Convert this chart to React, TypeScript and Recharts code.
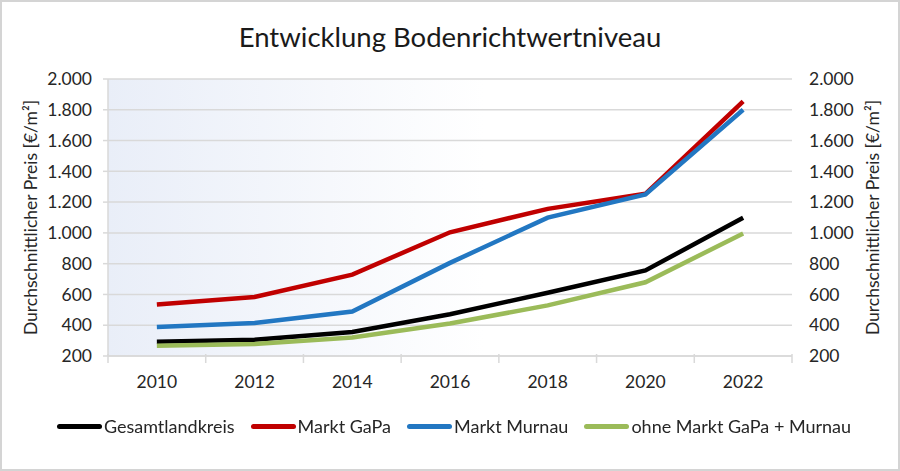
import React from 'react';
import { LineChart, Line, XAxis, YAxis, CartesianGrid } from 'recharts';

const years = ['2010', '2012', '2014', '2016', '2018', '2020', '2022'];
const gesamtlandkreis = [293, 305, 356, 471, 611, 756, 1098];
const marktGaPa = [535, 584, 729, 1004, 1156, 1254, 1855];
const marktMurnau = [389, 415, 489, 805, 1099, 1250, 1800];
const ohneGaPaMurnau = [266, 278, 320, 411, 529, 679, 996];
const yTicks = [200, 400, 600, 800, 1000, 1200, 1400, 1600, 1800, 2000];

// both y axes share the same scale; the last series is tied to the right one so it renders
const series = [
  { key: 'gesamt', name: 'Gesamtlandkreis', color: '#000000', values: gesamtlandkreis, axis: 'left' },
  { key: 'gapa', name: 'Markt GaPa', color: '#c00000', values: marktGaPa, axis: 'left' },
  { key: 'murnau', name: 'Markt Murnau', color: '#2277c2', values: marktMurnau, axis: 'left' },
  { key: 'ohne', name: 'ohne Markt GaPa + Murnau', color: '#9bbb59', values: ohneGaPaMurnau, axis: 'right' },
];

const data = years.map((year, i) => {
  const row: Record<string, string | number> = { year };
  series.forEach((s) => {
    row[s.key] = s.values[i];
  });
  return row;
});

const FONT = 'Lato, "Open Sans", sans-serif';
const TEXT = '#262626';
const GRID = '#d9d9d9';

// German thousands separator: 2000 -> "2.000"
const fmt = (v: number) =>
  v >= 1000 ? `${Math.floor(v / 1000)}.${String(v % 1000).padStart(3, '0')}` : String(v);

// x tick: label at category centre, tick marks on the band edges
const XTick = (props: any) => {
  const { x, y, payload, index, width } = props;
  const band = (width || 684) / years.length;
  return (
    <g>
      <line x1={x - band / 2} x2={x - band / 2} y1={y - 10} y2={y - 1} stroke={GRID} strokeWidth={1.5} />
      {index === years.length - 1 && (
        <line x1={x + band / 2} x2={x + band / 2} y1={y - 10} y2={y - 1} stroke={GRID} strokeWidth={1.5} />
      )}
      <text x={x} y={y + 24} textAnchor="middle" fill={TEXT} fontSize={17.5} fontFamily={FONT}>
        {payload.value}
      </text>
    </g>
  );
};

const AxisTitle = ({ viewBox, dx }: any) => {
  const cx = viewBox.x + dx;
  const cy = viewBox.y + viewBox.height / 2;
  return (
    <text
      x={cx}
      y={cy}
      transform={`rotate(-90 ${cx} ${cy})`}
      textAnchor="middle"
      dominantBaseline="central"
      fill={TEXT}
      fontSize={17.5}
      fontFamily={FONT}
    >
      Durchschnittlicher Preis [€/m²]
    </text>
  );
};

const ChartLegend = () => (
  <div
    style={{
      position: 'absolute',
      left: 4,
      top: 415,
      width: 900,
      display: 'flex',
      justifyContent: 'center',
      gap: 16,
      fontFamily: FONT,
      fontSize: 18,
      color: TEXT,
    }}
  >
    {series.map((s) => (
      <div key={s.key} style={{ display: 'flex', alignItems: 'center' }}>
        <span style={{ width: 45, height: 5, borderRadius: 3, background: s.color, display: 'inline-block' }} />
        <span style={{ marginLeft: 2 }}>{s.name}</span>
      </div>
    ))}
  </div>
);

export default function App() {
  return (
    <div style={{ position: 'fixed', left: 0, top: 0, width: 900, height: 471, background: '#fff' }}>
      <div
        style={{
          position: 'absolute',
          left: 0,
          top: 20,
          width: 900,
          textAlign: 'center',
          fontFamily: FONT,
          fontSize: 27.5,
          color: '#1a1a1a',
        }}
      >
        Entwicklung Bodenrichtwertniveau
      </div>
      <LineChart
        width={900}
        height={471}
        data={data}
        margin={{ top: 79, right: 0, left: 0, bottom: 85 }}
        style={{ position: 'absolute', left: 0, top: 0 }}
      >
        <defs>
          <linearGradient id="plotBg" x1="0" y1="0" x2="1" y2="0">
            <stop offset="0%" stopColor="#e9eef8" />
            <stop offset="55%" stopColor="#ffffff" />
            <stop offset="100%" stopColor="#ffffff" />
          </linearGradient>
        </defs>
        <CartesianGrid vertical={false} stroke={GRID} strokeWidth={1.5} fill="url(#plotBg)" yAxisId="left" />
        <XAxis
          dataKey="year"
          scale="band"
          height={30}
          axisLine={{ stroke: GRID, strokeWidth: 1.5 }}
          tickLine={false}
          tick={<XTick />}
          interval={0}
        />
        <YAxis
          yAxisId="left"
          width={108}
          domain={[200, 2000]}
          ticks={yTicks}
          interval={0}
          tickFormatter={fmt}
          axisLine={{ stroke: GRID, strokeWidth: 1.5 }}
          tickLine={{ stroke: GRID, strokeWidth: 1.5 }}
          tickSize={5}
          tickMargin={11}
          tick={{ fill: TEXT, fontSize: 17.5, fontFamily: FONT }}
          label={<AxisTitle dx={30} />}
        />
        <YAxis
          yAxisId="right"
          orientation="right"
          width={108}
          domain={[200, 2000]}
          ticks={yTicks}
          interval={0}
          tickFormatter={fmt}
          axisLine={false}
          tickLine={false}
          tickSize={0}
          tickMargin={17}
          tick={{ fill: TEXT, fontSize: 17.5, fontFamily: FONT, textAnchor: 'start' }}
          label={<AxisTitle dx={80} />}
        />
        {series.map((s) => (
          <Line
            key={s.key}
            yAxisId={s.axis}
            dataKey={s.key}
            name={s.name}
            type="linear"
            stroke={s.color}
            strokeWidth={4.5}
            dot={false}
            activeDot={false}
            isAnimationActive={false}
          />
        ))}
      </LineChart>
      <ChartLegend />
      <div
        style={{
          position: 'absolute',
          left: 0,
          top: 0,
          width: 900,
          height: 471,
          boxSizing: 'border-box',
          border: '2px solid #d4d4d4',
          pointerEvents: 'none',
        }}
      />
    </div>
  );
}
